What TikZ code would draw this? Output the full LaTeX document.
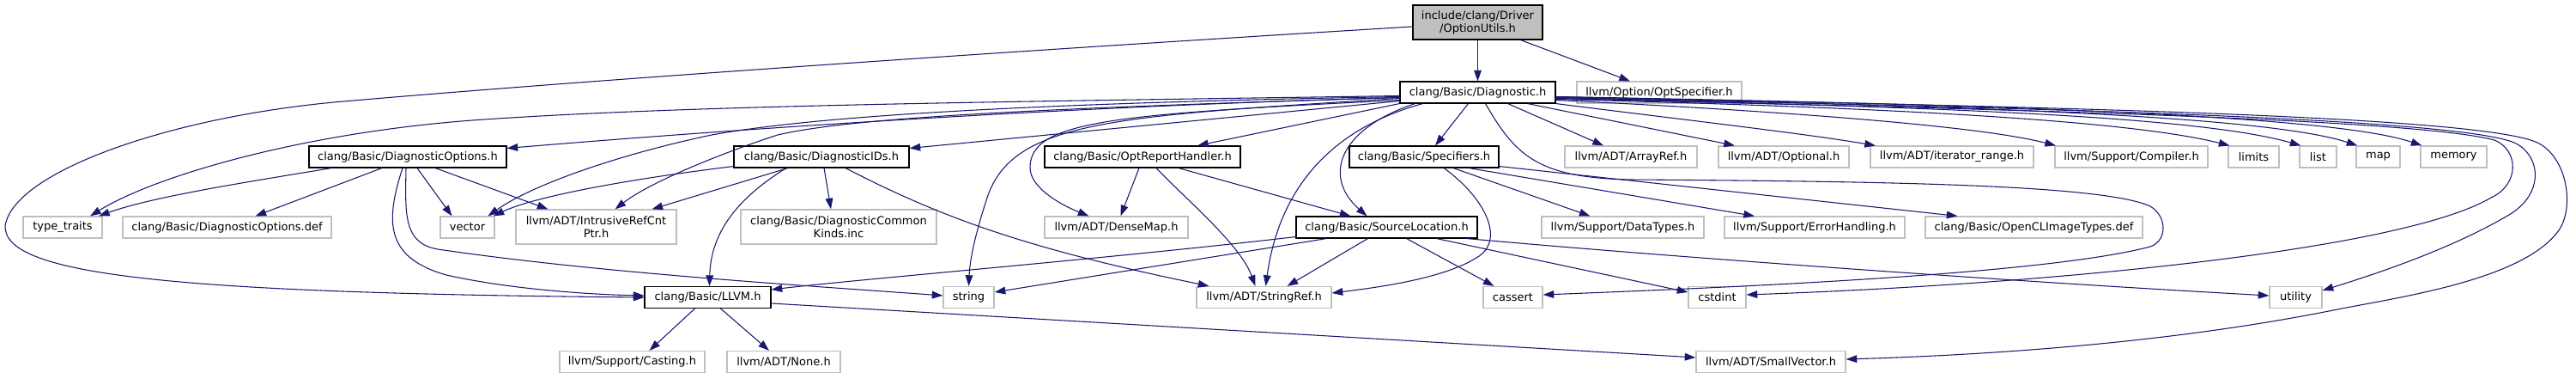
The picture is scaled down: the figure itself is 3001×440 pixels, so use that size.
\documentclass[tikz,border=0pt]{standalone}
\usepackage{fontspec}
\setmainfont{DejaVu Sans}
\usetikzlibrary{arrows.meta,calc}
\definecolor{midblue}{HTML}{191970}
\definecolor{greyb}{HTML}{BFBFBF}
\newcommand\gfont{\fontsize{9.75pt}{11.25pt}\selectfont}
\begin{document}
\begin{tikzpicture}[x=0.75pt,y=-0.75pt,
  base/.style={rectangle, inner sep=0pt, font=\gfont, align=center, minimum height=18.75pt},
  doc/.style={base, draw=black, fill=white, line width=0.8pt},
  ext/.style={base, draw=greyb, fill=white, line width=0.9pt},
  rootbox/.style={base, draw=black, fill=greyb, line width=0.8pt},
  bw/.style={minimum width=#1*0.75pt},
  tall/.style={minimum height=30pt},
  conn/.style={draw=midblue, line width=0.8pt, -{Triangle[length=9.5pt,width=6.5pt]}}]
\useasboundingbox (0,0) rectangle (3001,440);
% nodes
\node[rootbox, bw=151, tall] (root) at (1721.5,26) {include/clang/Driver\\/OptionUtils.h};
\node[doc, bw=181] (diag) at (1721.5,107.5) {clang/Basic/Diagnostic.h};
\node[ext, bw=192] (optspec) at (1933,107.5) {llvm/Option/OptSpecifier.h};
\node[doc, bw=230] (dopt) at (475,182.5) {clang/Basic/DiagnosticOptions.h};
\node[doc, bw=204] (dids) at (957,182.5) {clang/Basic/DiagnosticIDs.h};
\node[doc, bw=228] (orh) at (1331,182.5) {clang/Basic/OptReportHandler.h};
\node[doc, bw=174] (spec) at (1659,182.5) {clang/Basic/Specifiers.h};
\node[ext, bw=154] (aref) at (1900,182.5) {llvm/ADT/ArrayRef.h};
\node[ext, bw=152] (opt) at (2078,182.5) {llvm/ADT/Optional.h};
\node[ext, bw=190] (irange) at (2274,182.5) {llvm/ADT/iterator\_range.h};
\node[ext, bw=178] (comp) at (2483,182.5) {llvm/Support/Compiler.h};
\node[ext, bw=59] (limits) at (2625.5,182.5) {limits};
\node[ext, bw=43] (list) at (2700.5,182.5) {list};
\node[ext, bw=51] (map) at (2770.5,182.5) {map};
\node[ext, bw=77] (memory) at (2858.5,182.5) {memory};
\node[ext, bw=92] (ttraits) at (73,264.5) {type\_traits};
\node[ext, bw=243] (doptdef) at (264.5,264.5) {clang/Basic/DiagnosticOptions.def};
\node[ext, bw=63] (vector) at (544.5,264.5) {vector};
\node[ext, bw=187, tall] (irc) at (694.5,264) {llvm/ADT/IntrusiveRefCnt\\Ptr.h};
\node[ext, bw=228, tall] (dck) at (977,264) {clang/Basic/DiagnosticCommon\\Kinds.inc};
\node[ext, bw=167] (dmap) at (1300.5,264.5) {llvm/ADT/DenseMap.h};
\node[doc, bw=211] (sloc) at (1615.5,264.5) {clang/Basic/SourceLocation.h};
\node[ext, bw=189] (dtypes) at (1890.5,264.5) {llvm/Support/DataTypes.h};
\node[ext, bw=210] (errh) at (2114,264.5) {llvm/Support/ErrorHandling.h};
\node[ext, bw=253] (ocl) at (2369.5,264.5) {clang/Basic/OpenCLImageTypes.def};
\node[doc, bw=147] (llvmh) at (824.5,346) {clang/Basic/LLVM.h};
\node[ext, bw=59] (string) at (1128.5,346) {string};
\node[ext, bw=157] (sref) at (1472.5,346) {llvm/ADT/StringRef.h};
\node[ext, bw=69] (cassert) at (1762.5,346) {cassert};
\node[ext, bw=67] (cstdint) at (2000.5,346) {cstdint};
\node[ext, bw=61] (utility) at (2674.5,346) {utility};
\node[ext, bw=169] (cast) at (736.5,421) {llvm/Support/Casting.h};
\node[ext, bw=132] (nonenode) at (913,421) {llvm/ADT/None.h};
\node[ext, bw=174] (svec) at (2063,421) {llvm/ADT/SmallVector.h};
% root edges
\draw[conn] (root.south) -- (diag.north);
\draw[conn] ($(root.south)+(50,0)$) -- ($(optspec.north)+(-34,0)$);
\draw[conn] ($(root.west)+(0,5)$) .. controls (1200,58) and (700,92) .. (400,118) .. controls (200,135) and (15,200) .. (6,263) .. controls (4,320) and (200,341) .. (llvmh.west);
% Diagnostic.h edges
\draw[conn] ($(diag.west)+(0,6)$) .. controls (1200,125) and (800,155) .. ($(dopt.east)+(0,-10)$);
\draw[conn] ($(diag.west)+(0,10)$) -- ($(dids.east)+(0,-10)$);
\draw[conn] (diag.south west) -- ($(orh.north)+(64,0)$);
\draw[conn] ($(diag.south)+(-11,0)$) -- ($(spec.north)+(13,0)$);
\draw[conn] ($(diag.south)+(35,0)$) -- ($(aref.north)+(-32,0)$);
\draw[conn] ($(diag.south)+(58,0)$) -- ($(opt.north)+(-57,0)$);
\draw[conn] (diag.south east) .. controls (1950,138) and (2100,155) .. ($(irange.north)+(-89,0)$);
\draw[conn] ($(diag.east)+(0,9)$) .. controls (2050,128) and (2300,145) .. ($(comp.north)+(-88,0)$);
\draw[conn] ($(diag.east)+(0,8)$) .. controls (2200,125) and (2480,140) .. ($(limits.north)+(-28,0)$);
\draw[conn] ($(diag.east)+(0,7)$) .. controls (2250,124) and (2560,135) .. ($(list.north)+(-20,0)$);
\draw[conn] ($(diag.east)+(0,6)$) .. controls (2300,123) and (2640,135) .. ($(map.north)+(-24,0)$);
\draw[conn] ($(diag.east)+(0,5)$) .. controls (2350,122) and (2720,135) .. ($(memory.north)+(-37,0)$);
\draw[conn] ($(diag.south)+(9,0)$) .. controls (1765,180) and (1790,207) .. (1900,209) .. controls (2200,211) and (2450,215) .. (2505,240) .. controls (2525,252) and (2525,280) .. (2505,287) .. controls (2380,320) and (2000,335) .. ($(cassert.east)+(0,-3)$);
\draw[conn] ($(diag.east)+(0,7)$) .. controls (2200,125) and (2800,135) .. (2906,163) .. controls (2935,175) and (2935,215) .. (2902,230) .. controls (2800,290) and (2400,330) .. ($(cstdint.east)+(0,-3)$);
\draw[conn] ($(diag.east)+(0,6)$) .. controls (2200,123) and (2850,133) .. (2929,166) .. controls (2960,180) and (2965,225) .. (2923,250) .. controls (2860,287) and (2780,315) .. ($(utility.east)+(0,-8)$);
\draw[conn] ($(diag.east)+(0,5)$) .. controls (2200,122) and (2880,130) .. (2956,166) .. controls (2990,182) and (3000,240) .. (2981,268) .. controls (2940,325) and (2800,345) .. (2723,360) .. controls (2550,395) and (2350,412) .. ($(svec.east)+(0,-3)$);
\draw[conn] ($(diag.south)+(-73,0)$) .. controls (1560,150) and (1540,205) .. ($(sloc.north)+(-23,0)$);
\draw[conn] ($(diag.south)+(-64,0)$) .. controls (1550,150) and (1490,220) .. ($(sref.north)+(2,0)$);
\draw[conn] ($(diag.west)+(0,7)$) .. controls (1300,135) and (1180,140) .. (1150,230) .. controls (1137,270) and (1130,300) .. (string.north);
\draw[conn] ($(diag.west)+(0,9)$) .. controls (1300,133) and (1200,140) .. (1200,195) .. controls (1200,220) and (1240,240) .. ($(dmap.north)+(-32,0)$);
\draw[conn] ($(diag.west)+(0,5)$) .. controls (1200,120) and (950,135) .. (829,157) .. controls (720,180) and (620,215) .. ($(vector.north)+(24,0)$);
\draw[conn] ($(diag.west)+(0,4)$) .. controls (1200,118) and (800,122) .. (550,140) .. controls (350,155) and (180,205) .. ($(ttraits.north)+(32,0)$);
\draw[conn] ($(diag.west)+(0,6)$) .. controls (1250,125) and (1000,135) .. (906,157) .. controls (850,175) and (760,210) .. ($(irc.north)+(22,0)$);
% DiagnosticOptions.h edges
\draw[conn] ($(dopt.south)+(-89,0)$) .. controls (300,210) and (180,228) .. ($(ttraits.north)+(42,0)$);
\draw[conn] ($(dopt.south)+(-30,0)$) -- ($(doptdef.north)+(33,0)$);
\draw[conn] ($(dopt.south)+(11,0)$) -- ($(vector.north)+(-18,0)$);
\draw[conn] ($(dopt.south)+(32,0)$) -- ($(irc.north)+(-56,0)$);
\draw[conn] ($(dopt.south)+(-6,0)$) .. controls (448,260) and (450,300) .. (520,320) .. controls (600,338) and (700,343) .. ($(llvmh.west)+(0,-2)$);
\draw[conn] ($(dopt.south)+(-2,0)$) .. controls (472,250) and (470,283) .. (510,290) .. controls (700,318) and (950,333) .. ($(string.west)+(0,-2)$);
% DiagnosticIDs.h edges
\draw[conn] ($(dids.south west)+(0,-2)$) .. controls (720,210) and (620,230) .. ($(vector.north east)+(-2,0)$);
\draw[conn] ($(dids.south)+(-39,0)$) -- ($(irc.north)+(65,0)$);
\draw[conn] ($(dids.south)+(-41,0)$) .. controls (860,230) and (828,270) .. ($(llvmh.north)+(2,0)$);
\draw[conn] ($(dids.south)+(3,0)$) -- ($(dck.north)+(-9,0)$);
\draw[conn] ($(dids.south)+(28,0)$) .. controls (1100,255) and (1200,290) .. ($(sref.north)+(-64,0)$);
% OptReportHandler.h edges
\draw[conn] ($(orh.south)+(-4,0)$) -- ($(dmap.north)+(5,0)$);
\draw[conn] ($(orh.south)+(16,0)$) .. controls (1385,235) and (1445,285) .. ($(sref.north)+(-10,0)$);
\draw[conn] ($(orh.south)+(42,0)$) -- ($(sloc.north)+(-42,0)$);
% Specifiers.h edges
\draw[conn] ($(spec.south)+(34,0)$) -- ($(dtypes.north)+(-38,0)$);
\draw[conn] ($(spec.south)+(52,0)$) -- ($(errh.north)+(-70,0)$);
\draw[conn] ($(spec.south east)+(0,-2)$) -- ($(ocl.north)+(-89,0)$);
\draw[conn] ($(spec.south)+(23,0)$) .. controls (1730,230) and (1755,280) .. (1720,300) .. controls (1680,325) and (1600,335) .. ($(sref.east)+(0,-5)$);
% SourceLocation.h edges
\draw[conn] ($(sloc.south west)+(0,-2)$) .. controls (1300,300) and (1000,325) .. ($(llvmh.east)+(0,-9)$);
\draw[conn] ($(sloc.south)+(-70,0)$) -- ($(string.east)+(0,-6)$);
\draw[conn] ($(sloc.south)+(-22,0)$) -- ($(sref.north)+(27,0)$);
\draw[conn] ($(sloc.south)+(23,0)$) -- ($(cassert.north)+(-22,0)$);
\draw[conn] ($(sloc.south)+(58,0)$) -- ($(cstdint.west)+(0,-6)$);
\draw[conn] ($(sloc.south)+(93,0)$) .. controls (1900,295) and (2300,325) .. ($(utility.west)+(0,-2)$);
% LLVM.h edges
\draw[conn] ($(llvmh.south)+(-15,0)$) -- ($(cast.north)+(20,0)$);
\draw[conn] ($(llvmh.south)+(15,0)$) -- ($(nonenode.north)+(-17,0)$);
\draw[conn] ($(llvmh.east)+(0,7)$) -- ($(svec.west)+(0,-5)$);
\end{tikzpicture}
\end{document}
